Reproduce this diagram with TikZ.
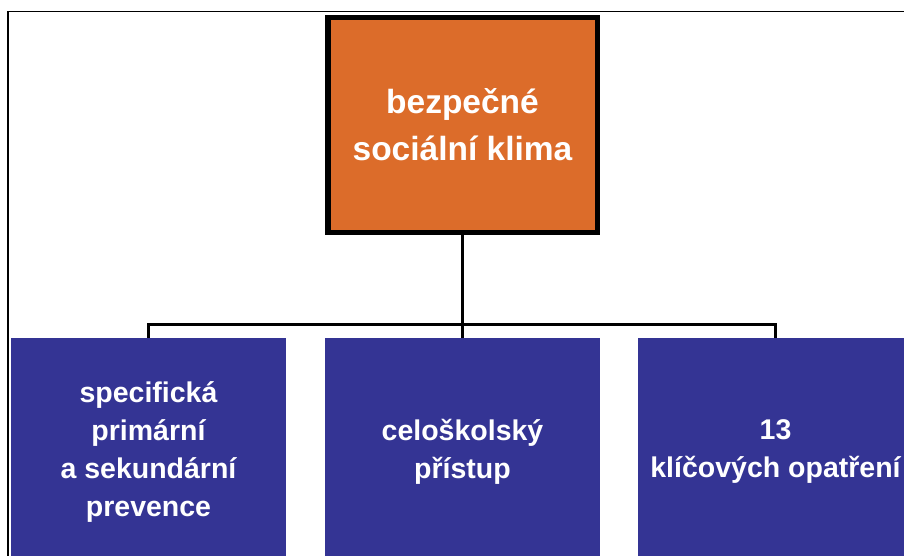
\documentclass[tikz,border=0pt]{standalone}
\usepackage{fontspec}
\setmainfont{Liberation Sans}
\definecolor{boxblue}{RGB}{52,52,148}
\definecolor{boxorange}{RGB}{220,108,42}
\begin{document}
\begin{tikzpicture}[x=1pt,y=-1pt,
  topbox/.style={draw=black, line width=5.5pt, fill=boxorange, inner sep=0pt,
    minimum width=269.5pt, minimum height=214.5pt, align=center, text=white,
    font=\bfseries\fontsize{33.5}{47}\selectfont},
  subbox/.style={fill=boxblue, inner sep=0pt, minimum width=275pt, minimum height=228pt,
    align=center, text=white, font=\bfseries\fontsize{28.5}{38}\selectfont},
  conn/.style={draw=black, line width=3pt}]
\useasboundingbox (0,0) rectangle (904,556);
\clip (0,0) rectangle (904,556);
\fill[white] (0,0) rectangle (904,556);
\draw[line width=1.2pt] (8,600) -- (8,11.5) -- (920,11.5);
\node[topbox] (top) at (462.5,125) {bezpečné\\sociální klima};
\node[subbox] (bleft) at (148.5,452) {specifická\\primární\\a sekundární\\prevence};
\node[subbox] (bmid) at (462.5,452) {celoškolský\\přístup};
\node[subbox] (bright) at (775.5,452) {13\\klíčových opatření};
\coordinate (bar) at (462.5,324);
\draw[conn] (top.south) -- (bmid.north);
\draw[conn] (bleft.north) |- (bar) -| (bright.north);
\end{tikzpicture}
\end{document}
